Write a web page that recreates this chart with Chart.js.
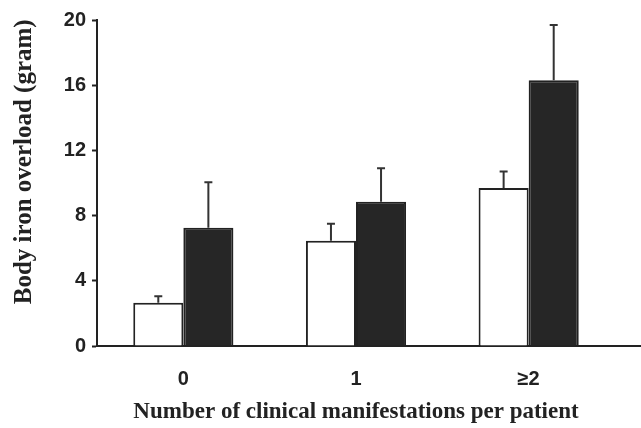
<!DOCTYPE html>
<html>
<head>
<meta charset="utf-8">
<script src="https://cdn.jsdelivr.net/npm/chart.js@4.4.1/dist/chart.umd.min.js"></script>
<style>
  html, body { margin: 0; padding: 0; background: #fff; }
  #wrap { width: 641px; height: 428px; }
</style>
</head>
<body>
<div id="wrap"><canvas id="ironChart"></canvas></div>
<script>
// --- Data ---
let categories = ['0', '1', '\u22652'];
let whiteValues = [2.65, 6.45, 9.7];   // open bars
let whiteErrors = [0.4, 1.05, 1.0];
let blackValues = [7.25, 8.85, 16.3];  // filled bars
let blackErrors = [2.8, 2.05, 3.4];
let yTicks = [0, 4, 8, 12, 16, 20];
let yTitle = 'Body iron overload (gram)';

let ink = '#222';

// Upper error bars, placed through the y scale
let errorBars = {
    id: 'errorBars',
    afterDatasetsDraw(chart) {
        let ctx = chart.ctx;
        let yScale = chart.scales.y;
        chart.data.datasets.forEach(function (ds, i) {
            let meta = chart.getDatasetMeta(i);
            meta.data.forEach(function (bar, j) {
                let yTop = yScale.getPixelForValue(ds.data[j]);
                let yErr = yScale.getPixelForValue(ds.data[j] + ds.errors[j]);
                ctx.save();
                ctx.strokeStyle = '#333';
                ctx.lineWidth = 2;
                ctx.beginPath();
                ctx.moveTo(bar.x, yTop);
                ctx.lineTo(bar.x, yErr);
                ctx.moveTo(bar.x - 4, yErr);
                ctx.lineTo(bar.x + 4, yErr);
                ctx.stroke();
                ctx.restore();
            });
        });
    }
};

// Baseline runs on past the last group; y title sits a bit above centre
let extras = {
    id: 'extras',
    afterDraw(chart) {
        let ctx = chart.ctx;
        let area = chart.chartArea;
        let y = chart.scales.y.getPixelForValue(0);
        ctx.save();
        ctx.strokeStyle = ink;
        ctx.lineWidth = 2;
        ctx.beginPath();
        ctx.moveTo(area.right - 1, y);
        ctx.lineTo(chart.width, y);
        ctx.stroke();

        ctx.translate(area.left - 72, area.top + (area.bottom - area.top) * 0.435);
        ctx.rotate(-Math.PI / 2);
        ctx.fillStyle = ink;
        ctx.font = 'bold 25px "Liberation Serif"';
        ctx.textAlign = 'center';
        ctx.textBaseline = 'middle';
        ctx.fillText(yTitle, 0, 0);
        ctx.restore();
    }
};

let canvas = document.getElementById('ironChart').getContext('2d');

let ironChart = new Chart(canvas, {
    type: 'bar',
    data: {
        labels: categories,
        datasets: [
            {
                label: 'open',
                data: whiteValues,
                errors: whiteErrors,
                backgroundColor: '#fff',
                borderColor: ink,
                borderWidth: 2,
                borderSkipped: 'bottom'
            },
            {
                label: 'filled',
                data: blackValues,
                errors: blackErrors,
                backgroundColor: '#262626',
                borderColor: ink,
                borderWidth: 2,
                borderSkipped: 'bottom'
            }
        ]
    },
    options: {
        responsive: true,
        maintainAspectRatio: false,
        animation: false,
        categoryPercentage: 0.58,
        barPercentage: 1,
        layout: { padding: { top: 20, right: 26, left: 0, bottom: 0 } },
        plugins: {
            legend: { display: false },
            tooltip: { enabled: false }
        },
        scales: {
            x: {
                grid: { display: false },
                border: { color: ink, width: 2 },
                ticks: {
                    padding: 13,
                    color: ink,
                    font: { family: 'Liberation Sans', size: 20, weight: 'bold' }
                },
                title: {
                    display: true,
                    text: 'Number of clinical manifestations per patient',
                    color: ink,
                    padding: { top: 0, bottom: 2 },
                    font: { family: 'Liberation Serif', size: 23, weight: 'bold' }
                },
                afterFit(scale) { scale.height = 82; }
            },
            y: {
                min: 0,
                max: 20,
                afterBuildTicks(scale) {
                    scale.ticks = yTicks.map(function (v) { return { value: v }; });
                },
                grid: { drawOnChartArea: false, tickLength: 5, color: ink, tickWidth: 2 },
                border: { color: ink, width: 2 },
                ticks: {
                    padding: 6,
                    color: ink,
                    font: { family: 'Liberation Sans', size: 20, weight: 'bold' }
                },
                afterFit(scale) { scale.width = 97; }
            }
        }
    },
    plugins: [errorBars, extras]
});
</script>
</body>
</html>
